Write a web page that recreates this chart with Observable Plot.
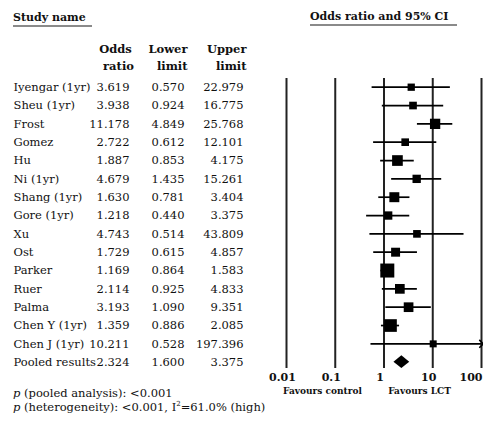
<!DOCTYPE html>
<html><head><meta charset="utf-8">
<script src="https://cdn.jsdelivr.net/npm/d3@7"></script>
<script src="https://cdn.jsdelivr.net/npm/@observablehq/plot@0.6"></script>
<style>
body{margin:0;background:#fff;}
#wrap{position:relative;width:483px;height:421px;font-family:"DejaVu Serif",serif;color:#111;overflow:hidden;}
#wrap svg{position:absolute;left:0;top:0;}
.hdr{position:absolute;font-weight:bold;font-size:11px;line-height:13px;padding-bottom:1px;border-bottom:2px solid #8a8a8a;white-space:nowrap;z-index:2;}
.foot{position:absolute;left:13px;top:386px;font-size:11.5px;line-height:14px;white-space:nowrap;z-index:2;}
.foot sup{font-size:7px;line-height:0;}
</style></head>
<body>
<div id="wrap">
  <div class="hdr" style="left:13px;top:11px;width:79px;">Study name</div>
  <div class="hdr" style="left:310px;top:10px;width:147px;">Odds ratio and 95% CI</div>
  <div class="foot"><i>p</i> (pooled analysis): &lt;0.001<br><i>p</i> (heterogeneity): &lt;0.001, I<sup>2</sup>=61.0% (high)</div>
</div>
<script>
const studies = ["Iyengar (1yr)", "Sheu (1yr)", "Frost", "Gomez", "Hu", "Ni (1yr)", "Shang (1yr)", "Gore (1yr)", "Xu", "Ost", "Parker", "Ruer", "Palma", "Chen Y (1yr)", "Chen J (1yr)"];
const oddsRatio = [3.619, 3.938, 11.178, 2.722, 1.887, 4.679, 1.630, 1.218, 4.743, 1.729, 1.169, 2.114, 3.193, 1.359, 10.211];
const lowerLimit = [0.570, 0.924, 4.849, 0.612, 0.853, 1.435, 0.781, 0.440, 0.514, 0.615, 0.864, 0.925, 1.090, 0.886, 0.528];
const upperLimit = [22.979, 16.775, 25.768, 12.101, 4.175, 15.261, 3.404, 3.375, 43.809, 4.857, 1.583, 4.833, 9.351, 2.085, 197.396];
const weights = [3.9, 4.3, 7.8, 4.3, 8.4, 5.1, 7.3, 5.1, 4.3, 5.9, 14.4, 6.9, 6.9, 11.8, 3.6];
const pooledName = "Pooled results";
const pooledOR = 2.324, pooledLower = 1.600, pooledUpper = 3.375;
const tickValues = [0.01, 0.1, 1, 10, 100];
const favourLabels = ["Favours control", "Favours LCT"];

const xMax = 100;
const fmt = d3.format(".3f");
const rows = studies.map((name, i) => ({
  name, idx: i + 1, or: oddsRatio[i], lo: lowerLimit[i], hi: upperLimit[i],
  hiClip: Math.min(upperLimit[i], xMax), over: upperLimit[i] > xMax, w: weights[i]
}));
const pooledIdx = studies.length + 1;
const table = [...rows, {name: pooledName, idx: pooledIdx, or: pooledOR, lo: pooledLower, hi: pooledUpper}];
const dh = 0.35;
const diamond = [
  {y: pooledIdx - dh, x1: pooledOR, x2: pooledOR},
  {y: pooledIdx, x1: pooledLower, x2: pooledUpper},
  {y: pooledIdx + dh, x1: pooledOR, x2: pooledOR}
];
const innerTicks = tickValues.slice(0, -1);
const lastTick = tickValues.slice(-1);

const fs = 11.5;
const chart = Plot.plot({
  width: 483, height: 421,
  marginLeft: 286, marginRight: 2, marginTop: 78, marginBottom: 53,
  x: {type: "log", domain: [0.01, xMax], axis: null},
  y: {domain: [1, pooledIdx], reverse: true, insetTop: 8.7, insetBottom: 6.3, axis: null},
  r: {type: "sqrt", domain: [0, 14.4], range: [0, 7.9]},
  style: {fontFamily: "DejaVu Serif, serif", fontSize: fs + "px", color: "#111", background: "transparent", overflow: "visible"},
  marks: [
    Plot.ruleX(tickValues, {stroke: "#222", strokeWidth: 2}),
    Plot.ruleY(rows.filter(d => !d.over), {x1: "lo", x2: "hiClip", y: "idx", stroke: "#000", strokeWidth: 1.7}),
    Plot.link(rows.filter(d => d.over), {x1: "lo", x2: "hiClip", y1: "idx", y2: "idx", stroke: "#000", strokeWidth: 1.7, markerEnd: "arrow"}),
    Plot.dot(rows, {x: "or", y: "idx", r: "w", symbol: "square", fill: "#000", stroke: null}),
    Plot.areaX(diamond, {y: "y", x1: "x1", x2: "x2", fill: "#000", curve: "linear"}),
    // table columns
    Plot.text(table, {y: "idx", text: "name", frameAnchor: "left", dx: -273, textAnchor: "start", fontSize: fs}),
    Plot.text(table, {y: "idx", text: d => fmt(d.or), frameAnchor: "left", dx: -157, textAnchor: "end", fontSize: fs}),
    Plot.text(table, {y: "idx", text: d => fmt(d.lo), frameAnchor: "left", dx: -102, textAnchor: "end", fontSize: fs}),
    Plot.text(table, {y: "idx", text: d => fmt(d.hi), frameAnchor: "left", dx: -43, textAnchor: "end", fontSize: fs}),
    // column headers
    Plot.text(["Odds"], {frameAnchor: "top-left", dx: -171, dy: -34, textAnchor: "middle", fontWeight: "bold", fontSize: fs}),
    Plot.text(["ratio"], {frameAnchor: "top-left", dx: -168, dy: -17, textAnchor: "middle", fontWeight: "bold", fontSize: fs}),
    Plot.text(["Lower"], {frameAnchor: "top-left", dx: -99, dy: -34, textAnchor: "end", fontWeight: "bold", fontSize: fs}),
    Plot.text(["limit"], {frameAnchor: "top-left", dx: -99, dy: -17, textAnchor: "end", fontWeight: "bold", fontSize: fs}),
    Plot.text(["Upper"], {frameAnchor: "top-left", dx: -40, dy: -34, textAnchor: "end", fontWeight: "bold", fontSize: fs}),
    Plot.text(["limit"], {frameAnchor: "top-left", dx: -40, dy: -17, textAnchor: "end", fontWeight: "bold", fontSize: fs}),
    // axis tick labels
    Plot.text(innerTicks, {x: d => d, text: d => String(d), frameAnchor: "bottom", dy: 12, dx: -4, fontWeight: "bold", fontSize: 11}),
    Plot.text(lastTick, {x: d => d, text: d => String(d), frameAnchor: "bottom", dy: 12, dx: 1, textAnchor: "end", fontWeight: "bold", fontSize: 11}),
    // favours labels
    Plot.text([favourLabels[0]], {frameAnchor: "bottom-left", dx: 36, dy: 25, textAnchor: "middle", fontWeight: "bold", fontSize: 9}),
    Plot.text([favourLabels[1]], {frameAnchor: "bottom-left", dx: 133, dy: 25, textAnchor: "middle", fontWeight: "bold", fontSize: 9})
  ]
});
document.getElementById("wrap").appendChild(chart);
</script>
</body></html>
